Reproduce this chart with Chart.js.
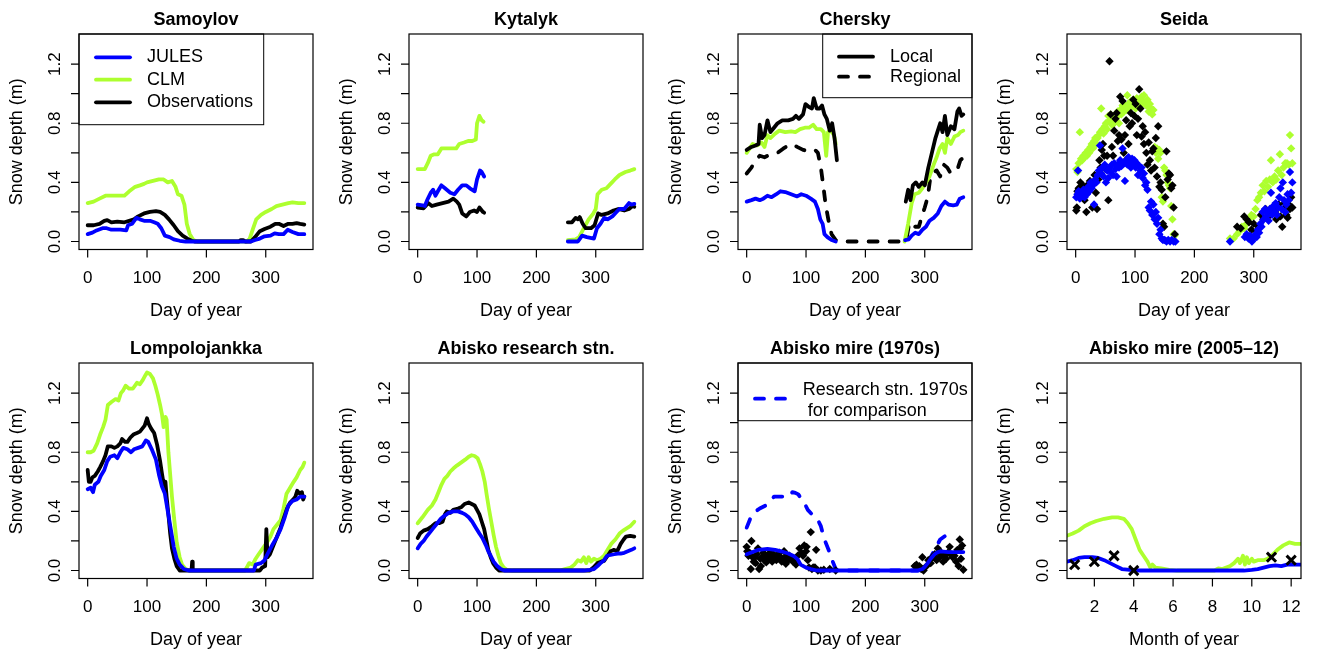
<!DOCTYPE html>
<html>
<head>
<meta charset="utf-8">
<script src="https://cdn.jsdelivr.net/npm/chart.js@4.4.0/dist/chart.umd.min.js"></script>
<style>
html, body { margin: 0; padding: 0; background: #fff; }
body { width: 1318px; height: 655px; position: relative; overflow: hidden; }
canvas { position: absolute; }
</style>
</head>
<body>
<script>
// ---- tick labels / legend texts ----
const dayTicks = [0, 100, 200, 300];
const monthTicks = [2, 4, 6, 8, 10, 12];
const depthTicks = [0, 0.2, 0.4, 0.6, 0.8, 1.0, 1.2];
const depthLabels = [0, 0.4, 0.8, 1.2];
const modelLegend = ['JULES', 'CLM', 'Observations'];
const cherskyLegend = ['Local', 'Regional'];
const mireLegend = ['Research stn. 1970s', ' for comparison'];

// ---- data: [day, snow depth m], null = no data ----
const samoylovJULES = [[0,0.05],[8,0.06],[15,0.075],[25,0.09],[32,0.09],[40,0.08],[55,0.08],[65,0.075],[68,0.11],[75,0.12],[82,0.16],[88,0.15],[95,0.14],[105,0.14],[112,0.13],[118,0.12],[124,0.09],[130,0.04],[138,0.03],[145,0.015],[155,0.005],[165,0],[275,0],[282,0.01],[290,0.02],[298,0.035],[308,0.04],[315,0.055],[322,0.05],[330,0.05],[337,0.08],[345,0.065],[355,0.05],[365,0.05]];
const samoylovCLM = [[0,0.26],[10,0.27],[20,0.29],[30,0.31],[45,0.31],[62,0.31],[70,0.34],[80,0.37],[88,0.38],[95,0.39],[100,0.40],[110,0.41],[120,0.42],[128,0.42],[135,0.40],[142,0.41],[148,0.37],[152,0.32],[158,0.31],[163,0.25],[167,0.12],[172,0.05],[178,0.01],[185,0],[268,0],[273,0.02],[278,0.08],[284,0.15],[292,0.18],[300,0.20],[310,0.22],[318,0.24],[328,0.25],[338,0.26],[345,0.265],[355,0.26],[365,0.26]];
const samoylovObs = [[0,0.11],[10,0.11],[20,0.12],[28,0.14],[33,0.145],[40,0.13],[50,0.135],[62,0.13],[70,0.14],[78,0.15],[85,0.17],[95,0.19],[105,0.20],[115,0.205],[122,0.20],[130,0.18],[137,0.15],[145,0.11],[152,0.07],[160,0.04],[168,0.02],[175,0.005],[180,0],[255,0],[258,0.01],[262,0.01],[266,0],[275,0],[282,0.03],[290,0.07],[298,0.085],[308,0.10],[316,0.12],[322,0.12],[330,0.105],[338,0.12],[345,0.12],[352,0.125],[358,0.12],[365,0.115]];

const kytalykJULES = [[0,0.25],[8,0.245],[12,0.24],[16,0.28],[22,0.33],[26,0.35],[30,0.31],[34,0.34],[40,0.38],[46,0.36],[55,0.33],[62,0.32],[68,0.35],[75,0.38],[82,0.38],[88,0.36],[96,0.34],[100,0.42],[105,0.48],[108,0.47],[112,0.44],[180,null],[253,0],[270,0],[277,0.04],[285,0.03],[297,0.02],[302,0.09],[308,0.12],[314,0.16],[320,0.15],[328,0.17],[335,0.20],[340,0.22],[348,0.22],[356,0.26],[360,0.25],[365,0.255]];
const kytalykCLM = [[0,0.49],[12,0.49],[17,0.53],[22,0.58],[28,0.59],[34,0.59],[40,0.63],[50,0.63],[65,0.63],[70,0.66],[78,0.67],[85,0.68],[92,0.68],[98,0.69],[100,0.80],[104,0.85],[108,0.82],[111,0.81],[180,null],[253,0.01],[266,0.015],[272,0.03],[280,0.09],[288,0.15],[296,0.19],[300,0.22],[303,0.32],[310,0.35],[318,0.36],[325,0.39],[332,0.42],[340,0.45],[350,0.47],[358,0.48],[365,0.49]];
const kytalykObs = [[0,0.23],[10,0.225],[18,0.26],[24,0.24],[32,0.25],[42,0.26],[52,0.27],[60,0.29],[66,0.27],[70,0.25],[75,0.19],[82,0.17],[88,0.20],[95,0.21],[100,0.20],[104,0.23],[110,0.20],[112,0.195],[180,null],[253,0.13],[260,0.13],[266,0.16],[270,0.15],[273,0.165],[278,0.12],[283,0.09],[292,0.09],[298,0.11],[304,0.19],[310,0.18],[320,0.19],[330,0.21],[338,0.22],[348,0.21],[356,0.22],[362,0.24],[365,0.235]];

const cherskyJULES = [[0,0.27],[8,0.28],[15,0.29],[22,0.28],[28,0.29],[35,0.31],[42,0.30],[50,0.32],[57,0.34],[65,0.335],[75,0.32],[85,0.305],[92,0.32],[100,0.31],[108,0.29],[115,0.27],[120,0.22],[124,0.15],[128,0.12],[131,0.05],[136,0.03],[143,0.01],[150,0],[151,null],[267,0.01],[273,0.015],[278,0.04],[284,0.06],[290,0.05],[296,0.08],[302,0.10],[308,0.14],[315,0.16],[322,0.19],[328,0.24],[334,0.27],[340,0.25],[348,0.245],[354,0.25],[359,0.29],[365,0.30]];
const cherskyCLM = [[0,0.60],[5,0.63],[10,0.66],[18,0.65],[25,0.67],[30,0.64],[35,0.72],[40,0.70],[48,0.73],[55,0.75],[65,0.74],[75,0.745],[82,0.74],[90,0.76],[98,0.77],[105,0.77],[112,0.79],[118,0.76],[125,0.76],[130,0.74],[134,0.58],[137,0.74],[142,0.75],[147,0.72],[150,0.66],[151,null],[266,0],[272,0.12],[278,0.26],[283,0.32],[290,0.33],[296,0.36],[302,0.40],[308,0.44],[315,0.52],[320,0.57],[325,0.63],[330,0.66],[334,0.60],[338,0.70],[344,0.66],[350,0.71],[356,0.72],[360,0.74],[365,0.75]];
const cherskyLocal = [[0,0.62],[8,0.64],[15,0.65],[20,0.66],[22,0.79],[26,0.70],[30,0.72],[35,0.82],[40,0.74],[46,0.77],[52,0.80],[60,0.82],[70,0.82],[78,0.83],[83,0.85],[88,0.83],[95,0.86],[99,0.93],[105,0.91],[110,0.90],[113,0.97],[118,0.90],[123,0.90],[127,0.92],[131,0.86],[135,0.83],[140,0.75],[144,0.80],[148,0.70],[152,0.55],[153,null],[268,0.27],[272,0.35],[276,0.28],[280,0.38],[285,0.40],[290,0.37],[296,0.40],[300,0.38],[306,0.50],[312,0.60],[318,0.70],[322,0.75],[326,0.80],[330,0.74],[334,0.85],[338,0.72],[344,0.78],[350,0.76],[355,0.88],[358,0.90],[362,0.85],[365,0.86]];
const cherskyRegional = [[0,0.46],[8,0.50],[15,0.55],[22,0.58],[30,0.57],[40,0.59],[52,0.60],[62,0.63],[70,0.65],[76,0.66],[85,0.64],[95,0.62],[105,0.61],[115,0.62],[120,0.60],[125,0.50],[129,0.38],[133,0.25],[138,0.14],[143,0.05],[150,0.01],[155,0],[265,0],[270,0.03],[274,0.13],[278,0.12],[284,0.10],[290,0.10],[296,0.18],[300,0.23],[305,0.30],[310,0.45],[315,0.47],[320,0.48],[326,0.44],[332,0.52],[338,0.50],[344,0.46],[350,0.48],[356,0.50],[360,0.55],[363,0.56]];

const seidaObs = [[1,0.21],[2,0.23],[3,0.34],[5,0.36],[6,0.31],[8,0.40],[10,0.37],[12,0.38],[15,0.28],[18,0.20],[19,0.33],[22,0.39],[24,0.41],[26,0.36],[28,0.23],[30,0.40],[32,0.45],[34,0.33],[36,0.22],[38,0.42],[40,0.55],[42,0.50],[44,0.62],[46,0.66],[48,0.58],[50,0.49],[53,0.58],[55,0.28],[57,1.22],[59,0.86],[61,0.64],[63,0.58],[65,0.75],[67,0.83],[69,0.87],[71,0.68],[73,0.72],[75,0.98],[77,0.69],[79,0.95],[81,0.60],[83,0.72],[85,0.82],[87,0.56],[89,0.66],[91,0.78],[93,0.87],[95,0.80],[97,0.96],[99,0.85],[101,0.93],[103,0.72],[105,0.83],[107,1.03],[109,0.90],[111,0.71],[113,0.78],[115,0.66],[117,0.74],[119,0.60],[121,0.52],[123,0.67],[125,0.55],[127,0.48],[129,0.61],[131,0.63],[133,0.50],[135,0.70],[137,0.44],[139,0.78],[141,0.37],[143,0.40],[145,0.35],[147,0.12],[149,0.10],[151,0.30],[153,0.61],[155,0.42],[157,0.46],[159,0.45],[161,0.36],[163,0.38],[165,0.23],[167,0.05],[272,0.10],[278,0.09],[284,0.17],[288,0.15],[292,0.13],[296,0.08],[300,0.12],[304,0.07],[308,0.10],[312,0.18],[316,0.15],[320,0.22],[324,0.20],[328,0.18],[332,0.23],[336,0.20],[338,0.15],[342,0.25],[345,0.17],[348,0.10],[350,0.22],[352,0.26],[355,0.18],[357,0.16],[359,0.25],[361,0.22],[363,0.30],[365,0.23]];
const seidaCLM = [[1,0.49],[3,0.47],[5,0.53],[7,0.74],[9,0.56],[11,0.55],[13,0.58],[15,0.57],[17,0.60],[19,0.58],[21,0.62],[23,0.60],[25,0.64],[27,0.66],[29,0.63],[31,0.68],[33,0.70],[35,0.66],[37,0.70],[39,0.72],[41,0.74],[43,0.90],[45,0.76],[47,0.73],[49,0.78],[51,0.80],[53,0.76],[55,0.85],[57,0.82],[59,0.86],[61,0.79],[63,0.83],[65,0.80],[67,0.86],[69,0.84],[71,0.88],[73,0.80],[75,0.89],[77,0.86],[79,0.92],[81,0.88],[83,0.92],[85,0.89],[87,0.99],[89,0.93],[91,0.90],[93,0.95],[95,0.92],[97,0.96],[99,0.94],[101,0.90],[103,0.97],[105,0.93],[107,0.96],[109,0.92],[111,0.98],[113,0.95],[115,0.99],[117,0.94],[119,0.92],[121,0.96],[123,0.88],[125,0.93],[127,0.90],[129,0.86],[131,0.89],[133,0.64],[135,0.60],[137,0.63],[139,0.56],[141,0.62],[143,0.60],[145,0.30],[147,0.27],[149,0.50],[151,0.48],[153,0.45],[155,0.40],[157,0.38],[159,0.36],[161,0.24],[163,0.15],[165,0.05],[167,0.04],[260,0.02],[266,0.02],[272,0.05],[276,0.07],[280,0.10],[284,0.09],[288,0.12],[292,0.15],[296,0.18],[300,0.17],[303,0.22],[306,0.28],[309,0.30],[312,0.33],[315,0.38],[318,0.34],[321,0.41],[324,0.37],[327,0.42],[329,0.55],[332,0.40],[335,0.44],[338,0.42],[341,0.48],[344,0.59],[347,0.45],[350,0.50],[353,0.53],[356,0.53],[359,0.52],[361,0.72],[363,0.63],[365,0.53]];
const seidaJULES = [[1,0.30],[3,0.32],[4,0.48],[5,0.34],[7,0.29],[9,0.33],[11,0.31],[13,0.35],[15,0.30],[17,0.34],[19,0.32],[21,0.37],[23,0.34],[25,0.40],[27,0.36],[29,0.38],[31,0.25],[33,0.42],[35,0.40],[37,0.45],[39,0.48],[41,0.65],[43,0.46],[45,0.50],[47,0.44],[49,0.52],[51,0.40],[53,0.48],[55,0.43],[57,0.50],[59,0.47],[61,0.52],[63,0.45],[65,0.53],[67,0.49],[69,0.44],[71,0.52],[73,0.50],[75,0.55],[77,0.51],[79,0.63],[81,0.53],[83,0.41],[85,0.55],[87,0.52],[89,0.57],[91,0.54],[93,0.50],[95,0.56],[97,0.52],[99,0.55],[101,0.50],[103,0.53],[105,0.45],[107,0.51],[109,0.48],[111,0.50],[113,0.43],[115,0.46],[117,0.38],[119,0.40],[121,0.35],[123,0.23],[125,0.21],[127,0.27],[129,0.18],[131,0.25],[133,0.15],[135,0.20],[137,0.12],[139,0.16],[141,0.05],[143,0.08],[145,0.02],[147,0.01],[150,0.01],[153,0.0],[156,0.01],[159,0.0],[162,0.01],[165,0.0],[168,0.0],[260,0.0],[285,0.03],[288,0.05],[291,0.02],[294,0.04],[297,0.0],[300,0.02],[303,0.05],[305,0.03],[307,0.08],[309,0.06],[311,0.12],[313,0.10],[315,0.20],[317,0.15],[319,0.22],[321,0.17],[323,0.20],[325,0.14],[327,0.22],[329,0.33],[331,0.18],[333,0.24],[335,0.20],[337,0.26],[339,0.18],[341,0.23],[343,0.30],[345,0.36],[347,0.22],[349,0.40],[351,0.28],[353,0.20],[355,0.25],[357,0.32],[359,0.28],[361,0.47],[363,0.33],[365,0.40]];

const lompoJULES = [[0,0.55],[5,0.56],[9,0.53],[12,0.58],[18,0.60],[22,0.64],[28,0.68],[33,0.74],[38,0.77],[45,0.78],[50,0.76],[55,0.80],[60,0.83],[67,0.82],[73,0.80],[78,0.82],[85,0.83],[92,0.84],[98,0.88],[102,0.87],[108,0.82],[115,0.75],[120,0.65],[125,0.57],[130,0.52],[135,0.40],[140,0.28],[145,0.16],[150,0.08],[155,0.04],[162,0.01],[170,0],[280,0],[283,0.04],[292,0.05],[298,0.07],[304,0.12],[312,0.18],[318,0.22],[325,0.28],[332,0.36],[338,0.44],[345,0.47],[352,0.48],[358,0.50],[365,0.50]];
const lompoCLM = [[0,0.80],[5,0.80],[10,0.81],[16,0.86],[21,0.92],[26,0.97],[30,1.02],[34,1.12],[40,1.14],[47,1.16],[52,1.15],[56,1.20],[60,1.22],[64,1.25],[70,1.23],[76,1.23],[83,1.27],[88,1.26],[93,1.29],[97,1.32],[100,1.34],[105,1.33],[110,1.30],[114,1.25],[118,1.19],[122,1.12],[125,1.06],[128,0.97],[131,1.04],[133,1.02],[136,0.80],[139,0.65],[142,0.50],[146,0.34],[150,0.19],[155,0.09],[159,0.04],[165,0.01],[172,0],[265,0],[268,0.02],[272,0.05],[278,0.04],[283,0.08],[288,0.11],[295,0.15],[302,0.19],[308,0.23],[313,0.28],[319,0.31],[325,0.34],[330,0.42],[335,0.52],[341,0.56],[347,0.60],[352,0.63],[358,0.68],[362,0.70],[365,0.73]];
const lompoObs = [[0,0.68],[2,0.60],[5,0.60],[8,0.63],[12,0.64],[17,0.67],[21,0.70],[26,0.74],[30,0.78],[34,0.84],[40,0.84],[45,0.83],[50,0.84],[55,0.86],[58,0.89],[63,0.87],[67,0.87],[72,0.90],[77,0.92],[83,0.93],[88,0.94],[92,0.96],[96,0.98],[100,1.03],[103,0.99],[107,0.96],[112,0.93],[117,0.85],[122,0.74],[125,0.66],[127,0.61],[129,0.58],[131,0.60],[133,0.50],[136,0.38],[139,0.25],[142,0.15],[146,0.08],[150,0.03],[155,0],[175,0],[176,0.06],[177,0],[290,0],[294,0.02],[299,0.03],[301,0.28],[303,0.09],[307,0.11],[313,0.17],[319,0.23],[325,0.29],[330,0.35],[336,0.42],[341,0.46],[346,0.48],[350,0.50],[353,0.54],[357,0.52],[361,0.53],[363,0.48],[365,0.50]];

const abiskoJULES = [[0,0.15],[5,0.18],[10,0.20],[15,0.23],[21,0.26],[27,0.29],[33,0.32],[39,0.35],[45,0.37],[52,0.39],[60,0.40],[68,0.40],[75,0.39],[80,0.38],[86,0.36],[92,0.33],[98,0.29],[104,0.25],[109,0.22],[115,0.17],[119,0.13],[123,0.10],[128,0.06],[134,0.03],[140,0.01],[146,0],[280,0],[290,0.005],[297,0.01],[303,0.03],[308,0.05],[314,0.07],[319,0.10],[325,0.105],[331,0.11],[337,0.115],[342,0.115],[348,0.12],[354,0.13],[360,0.14],[365,0.15]];
const abiskoCLM = [[0,0.32],[8,0.36],[17,0.41],[24,0.44],[30,0.48],[35,0.53],[40,0.58],[45,0.62],[50,0.64],[55,0.67],[60,0.69],[66,0.71],[73,0.73],[80,0.75],[86,0.77],[91,0.78],[96,0.775],[101,0.76],[105,0.72],[109,0.67],[113,0.60],[116,0.52],[120,0.42],[124,0.33],[128,0.24],[132,0.16],[136,0.10],[140,0.05],[145,0.02],[150,0.005],[160,0],[240,0],[248,0.01],[258,0.02],[264,0.04],[270,0.07],[275,0.06],[280,0.09],[284,0.05],[288,0.09],[292,0.06],[297,0.08],[302,0.07],[308,0.08],[314,0.10],[320,0.14],[326,0.18],[333,0.21],[340,0.25],[346,0.27],[352,0.285],[358,0.30],[365,0.33]];
const abiskoObs = [[0,0.22],[4,0.25],[10,0.27],[17,0.28],[24,0.30],[30,0.32],[36,0.32],[42,0.33],[46,0.38],[49,0.40],[55,0.39],[60,0.41],[68,0.42],[74,0.43],[79,0.45],[86,0.46],[91,0.45],[96,0.44],[100,0.41],[104,0.38],[108,0.33],[112,0.28],[116,0.20],[119,0.14],[123,0.09],[127,0.05],[132,0.02],[137,0],[290,0],[296,0.02],[303,0.05],[309,0.06],[314,0.065],[320,0.10],[325,0.13],[331,0.14],[336,0.13],[342,0.18],[347,0.21],[351,0.23],[358,0.235],[365,0.23]];

const mire70JULES = [[0,0.11],[10,0.125],[20,0.14],[35,0.147],[48,0.14],[58,0.13],[70,0.115],[80,0.096],[86,0.075],[91,0.04],[100,0.02],[108,0.01],[118,0],[288,0],[296,0.01],[300,0.025],[305,0.05],[310,0.08],[316,0.108],[322,0.125],[327,0.13],[340,0.125],[350,0.125],[365,0.125]];
const mire70Station = [[0,0.29],[4,0.33],[8,0.37],[15,0.40],[22,0.42],[32,0.44],[40,0.47],[46,0.50],[55,0.50],[65,0.50],[72,0.50],[77,0.53],[82,0.525],[87,0.515],[93,0.48],[98,0.45],[103,0.41],[110,0.38],[119,0.35],[125,0.30],[131,0.21],[136,0.16],[140,0.12],[145,0.06],[150,0.01],[155,0],[290,0],[300,0.03],[310,0.09],[318,0.15],[326,0.21],[333,0.23],[340,0.25],[347,0.27]];
const mire70Obs = [[0,0.16],[1,0.13],[3,0.10],[5,0.12],[7,0.01],[8,0.20],[10,0.09],[12,0.06],[14,0.09],[15,0.05],[17,0.11],[19,0.15],[21,0.01],[23,0.08],[24,0.03],[26,0.09],[28,0.12],[30,0.07],[33,0.055],[35,0.10],[37,0.08],[39,0.12],[41,0.09],[43,0.06],[45,0.11],[47,0.08],[50,0.07],[52,0.10],[55,0.12],[57,0.09],[59,0.06],[61,0.08],[63,0.13],[66,0.045],[68,0.10],[70,0.07],[72,0.10],[75,0.09],[78,0.06],[80,0.07],[83,0.04],[86,0.10],[89,0.15],[92,0.12],[95,0.10],[97,0.17],[100,0.13],[101,0.16],[103,0.07],[105,0.02],[108,0.26],[110,0.01],[112,0.02],[115,0.02],[117,0.14],[120,0.0],[125,0.0],[130,0.005],[140,0.01],[150,0.0],[283,0.03],[286,0.04],[289,0.02],[291,0.03],[294,0.01],[296,0.09],[298,0.0],[303,0.03],[306,0.07],[310,0.05],[313,0.09],[317,0.11],[320,0.07],[322,0.15],[325,0.09],[328,0.12],[331,0.06],[334,0.10],[336,0.08],[339,0.12],[342,0.16],[344,0.11],[347,0.09],[350,0.10],[353,0.06],[355,0.14],[357,0.03],[359,0.21],[360,0.15],[361,0.08],[363,0.17],[365,0.005]];

// [month, snow depth m]
const mire05JULES = [[0.6,0.06],[0.9,0.07],[1.2,0.085],[1.5,0.09],[1.9,0.09],[2.2,0.085],[2.5,0.07],[2.8,0.05],[3.1,0.03],[3.4,0.01],[3.8,0.005],[4.3,0],[9.6,0],[10.0,0.005],[10.3,0.01],[10.6,0.02],[10.9,0.03],[11.2,0.035],[11.5,0.03],[11.8,0.04],[12.1,0.04],[12.5,0.04]];
const mire05CLM = [[0.6,0.235],[0.9,0.25],[1.2,0.27],[1.5,0.30],[1.8,0.32],[2.1,0.335],[2.5,0.35],[2.9,0.36],[3.2,0.36],[3.5,0.35],[3.7,0.32],[3.9,0.28],[4.1,0.21],[4.3,0.14],[4.5,0.10],[4.7,0.06],[4.85,0.02],[4.95,0.04],[5.1,0.02],[5.4,0.015],[5.8,0.005],[6.2,0],[8.1,0],[8.3,0.015],[8.5,0.01],[8.7,0.02],[8.9,0.03],[9.1,0.05],[9.3,0.08],[9.4,0.05],[9.55,0.10],[9.65,0.04],[9.75,0.09],[9.85,0.05],[10.0,0.08],[10.1,0.06],[10.3,0.07],[10.6,0.07],[10.8,0.08],[11.0,0.10],[11.3,0.14],[11.6,0.17],[11.9,0.19],[12.2,0.18],[12.5,0.18]];
const mire05Obs = [[1,0.04],[2,0.06],[3,0.10],[4,0.00],[11,0.09],[12,0.07]];

const BLUE = '#0000ff', GREEN = '#adff2f', BLACK = '#000000';
const FONT = '"Liberation Sans", Arial, Helvetica, sans-serif';
const DASH = [9, 12];
const LW = 3.8;

function pts(a) { return a.map(p => ({ x: p[0], y: p[1] })); }

function lineSet(label, a, color, dash) {
    return {
        label: label, data: pts(a), borderColor: color, backgroundColor: color,
        borderWidth: LW, borderDash: dash || [], borderCapStyle: 'round', borderJoinStyle: 'round',
        pointRadius: 0, fill: false, tension: 0, spanGaps: false
    };
}
function dotSet(label, a, color) {
    return {
        label: label, data: pts(a), showLine: false, pointStyle: 'rectRot',
        pointRadius: 4.2, pointBackgroundColor: color, pointBorderColor: color, pointBorderWidth: 0
    };
}

function legendBox(ctx, x, y, w, h) {
    ctx.fillStyle = '#fff';
    ctx.fillRect(x, y, w, h);
    ctx.strokeStyle = '#000';
    ctx.lineWidth = 1;
    ctx.strokeRect(x, y, w, h);
}
function legendLine(ctx, x1, x2, y, color, dash) {
    ctx.save();
    ctx.strokeStyle = color;
    ctx.lineWidth = LW;
    ctx.lineCap = 'round';
    ctx.setLineDash(dash || []);
    ctx.beginPath(); ctx.moveTo(x1, y); ctx.lineTo(x2, y); ctx.stroke();
    ctx.restore();
}
function legendText(ctx, t, x, y) {
    ctx.fillStyle = '#000';
    ctx.font = '18px ' + FONT;
    ctx.textAlign = 'left';
    ctx.textBaseline = 'middle';
    ctx.fillText(t, x, y);
}

const legends = {
    models(ctx, a) {
        legendBox(ctx, a.left, a.top, 184.7, 90.7);
        const cols = [BLUE, GREEN, BLACK], ys = [23.3, 45.7, 68.3];
        modelLegend.forEach((t, i) => {
            legendLine(ctx, a.left + 17, a.left + 51, a.top + ys[i], cols[i]);
            legendText(ctx, t, a.left + 68, a.top + ys[i]);
        });
    },
    chersky(ctx, a) {
        legendBox(ctx, a.left + 84.7, a.top, a.right - a.left - 84.7, 63.7);
        const ys = [22.7, 42.7];
        cherskyLegend.forEach((t, i) => {
            legendLine(ctx, a.left + 101, a.left + 135, a.top + ys[i], BLACK, i ? DASH : null);
            legendText(ctx, t, a.left + 152, a.top + ys[i]);
        });
    },
    mire(ctx, a) {
        legendBox(ctx, a.left, a.top, a.right - a.left, 57.7);
        legendLine(ctx, a.left + 17, a.left + 48, a.top + 35.7, BLUE, DASH);
        legendText(ctx, mireLegend[0], a.left + 64.7, a.top + 26.7);
        legendText(ctx, mireLegend[1], a.left + 64.7, a.top + 47.7);
    }
};

function framePlugin(p) {
    return {
        id: 'rframe',
        afterDraw(chart) {
            const ctx = chart.ctx, a = chart.chartArea;
            const xs = chart.scales.x, ys = chart.scales.y;
            ctx.save();
            if (p.legend) legends[p.legend](ctx, a);
            ctx.strokeStyle = '#000';
            ctx.lineWidth = 1.2;
            ctx.strokeRect(a.left, a.top, a.right - a.left, a.bottom - a.top);
            ctx.beginPath();
            p.xticks.forEach(v => {
                const x = xs.getPixelForValue(v);
                ctx.moveTo(x, a.bottom); ctx.lineTo(x, a.bottom + 8);
            });
            depthTicks.forEach(v => {
                const y = ys.getPixelForValue(v);
                ctx.moveTo(a.left, y); ctx.lineTo(a.left - 8, y);
            });
            ctx.stroke();

            ctx.fillStyle = '#000';
            ctx.font = '17px ' + FONT;
            ctx.textAlign = 'center';
            ctx.textBaseline = 'alphabetic';
            p.xticks.forEach(v => ctx.fillText(String(v), xs.getPixelForValue(v), a.bottom + 33));
            depthLabels.forEach(v => {
                ctx.save();
                ctx.translate(a.left - 19, ys.getPixelForValue(v));
                ctx.rotate(-Math.PI / 2);
                ctx.fillText(v.toFixed(1), 0, 0);
                ctx.restore();
            });

            ctx.font = '18px ' + FONT;
            ctx.fillText(p.xlab, (a.left + a.right) / 2, a.bottom + 66.5);
            ctx.save();
            ctx.translate(a.left - 57, (a.top + a.bottom) / 2);
            ctx.rotate(-Math.PI / 2);
            ctx.fillText('Snow depth (m)', 0, 0);
            ctx.restore();

            ctx.font = 'bold 18px ' + FONT;
            ctx.fillText(p.title, (a.left + a.right) / 2, a.top - 9);
            ctx.restore();
        }
    };
}

const dayRange = [-14.6, 379.6];
const panels = [
    { title: 'Samoylov', xlab: 'Day of year', range: dayRange, xticks: dayTicks, legend: 'models',
      sets: [lineSet('JULES', samoylovJULES, BLUE), lineSet('Observations', samoylovObs, BLACK), lineSet('CLM', samoylovCLM, GREEN)] },
    { title: 'Kytalyk', xlab: 'Day of year', range: dayRange, xticks: dayTicks,
      sets: [lineSet('JULES', kytalykJULES, BLUE), lineSet('Observations', kytalykObs, BLACK), lineSet('CLM', kytalykCLM, GREEN)] },
    { title: 'Chersky', xlab: 'Day of year', range: dayRange, xticks: dayTicks, legend: 'chersky',
      sets: [lineSet('JULES', cherskyJULES, BLUE), lineSet('Local', cherskyLocal, BLACK), lineSet('CLM', cherskyCLM, GREEN), lineSet('Regional', cherskyRegional, BLACK, DASH)] },
    { title: 'Seida', xlab: 'Day of year', range: dayRange, xticks: dayTicks,
      sets: [dotSet('JULES', seidaJULES, BLUE), dotSet('Observations', seidaObs, BLACK), dotSet('CLM', seidaCLM, GREEN)] },
    { title: 'Lompolojankka', xlab: 'Day of year', range: dayRange, xticks: dayTicks,
      sets: [lineSet('JULES', lompoJULES, BLUE), lineSet('Observations', lompoObs, BLACK), lineSet('CLM', lompoCLM, GREEN)] },
    { title: 'Abisko research stn.', xlab: 'Day of year', range: dayRange, xticks: dayTicks,
      sets: [lineSet('JULES', abiskoJULES, BLUE), lineSet('Observations', abiskoObs, BLACK), lineSet('CLM', abiskoCLM, GREEN)] },
    { title: 'Abisko mire (1970s)', xlab: 'Day of year', range: dayRange, xticks: dayTicks, legend: 'mire',
      sets: [lineSet('JULES', mire70JULES, BLUE), dotSet('Observations', mire70Obs, BLACK), lineSet('Research stn. 1970s', mire70Station, BLUE, DASH)] },
    { title: 'Abisko mire (2005\u201312)', xlab: 'Month of year', range: [0.61, 12.5], xticks: monthTicks,
      sets: [
        { label: 'Observations', data: pts(mire05Obs), showLine: false, pointStyle: 'crossRot', pointRadius: 6.5,
          pointBorderColor: BLACK, pointBackgroundColor: BLACK, pointBorderWidth: 3 },
        lineSet('JULES', mire05JULES, BLUE), lineSet('CLM', mire05CLM, GREEN)] }
];

const colLeft = [0, 330, 659, 988];
const rowTop = [0, 329];
const rowH = [329, 326];

panels.forEach((p, i) => {
    const col = i % 4, row = Math.floor(i / 4);
    const cv = document.createElement('canvas');
    cv.width = 330; cv.height = rowH[row];
    cv.style.left = colLeft[col] + 'px';
    cv.style.top = rowTop[row] + 'px';
    cv.style.width = '330px'; cv.style.height = rowH[row] + 'px';
    document.body.appendChild(cv);
    new Chart(cv, {
        type: 'line',
        data: { datasets: p.sets },
        options: {
            responsive: false, animation: false, devicePixelRatio: 1, events: [],
            layout: { padding: { left: 79, right: 17, top: 34, bottom: rowH[row] - 249.5 } },
            plugins: { legend: { display: false }, title: { display: false }, tooltip: { enabled: false } },
            scales: {
                x: { type: 'linear', display: false, min: p.range[0], max: p.range[1] },
                y: { type: 'linear', display: false, min: -0.054, max: 1.404 }
            }
        },
        plugins: [framePlugin(p)]
    });
});
</script>
</body>
</html>
